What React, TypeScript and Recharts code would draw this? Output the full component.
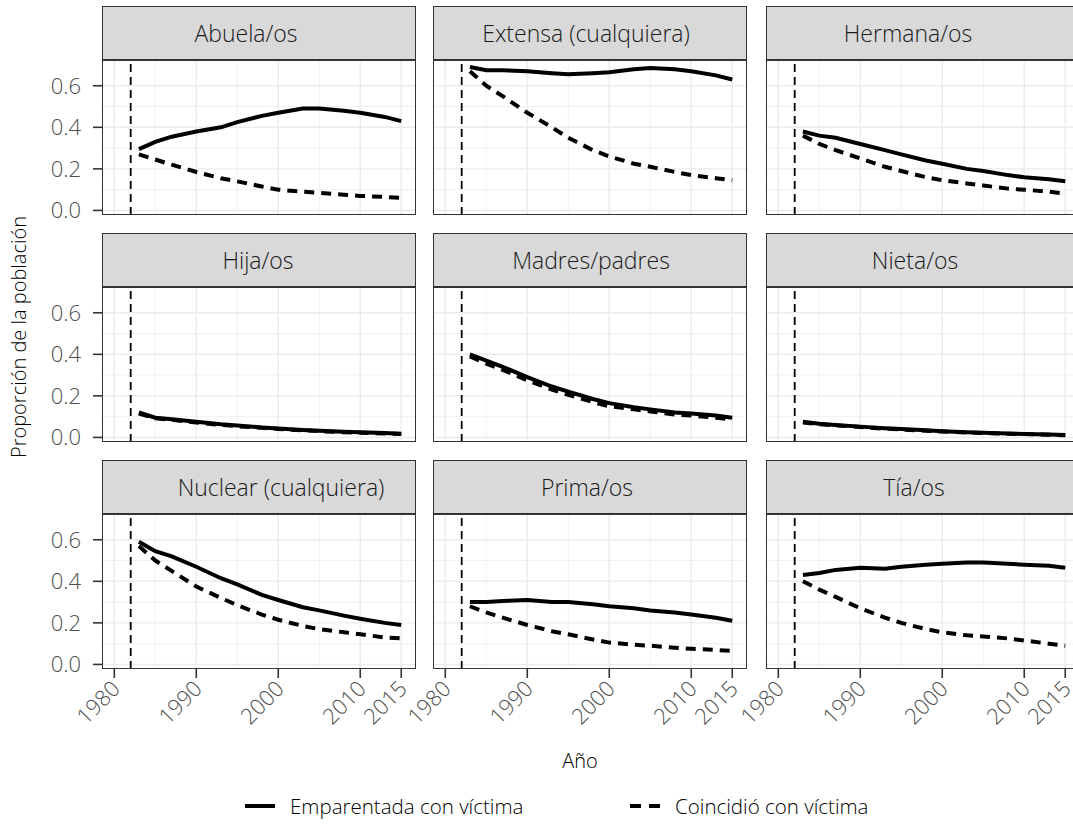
import { LineChart, Line, XAxis, YAxis, CartesianGrid, ReferenceLine } from "recharts";

const years = [1983, 1985, 1987, 1990, 1993, 1995, 1998, 2000, 2003, 2005, 2008, 2010, 2013, 2015];

const panelNames = [
  "Abuela/os", "Extensa (cualquiera)", "Hermana/os",
  "Hija/os", "Madres/padres", "Nieta/os",
  "Nuclear (cualquiera)", "Prima/os", "Tía/os",
];

// emparentada con víctima (solid)
const abuelaRel = [0.295, 0.33, 0.355, 0.38, 0.4, 0.425, 0.455, 0.47, 0.49, 0.49, 0.48, 0.47, 0.45, 0.43];
const extensaRel = [0.69, 0.675, 0.675, 0.67, 0.66, 0.655, 0.66, 0.665, 0.68, 0.685, 0.68, 0.67, 0.65, 0.63];
const hermanaRel = [0.38, 0.36, 0.35, 0.32, 0.29, 0.27, 0.24, 0.225, 0.2, 0.19, 0.17, 0.16, 0.15, 0.14];
const hijaRel = [0.12, 0.095, 0.088, 0.075, 0.063, 0.057, 0.048, 0.043, 0.036, 0.032, 0.027, 0.025, 0.021, 0.018];
const madresRel = [0.4, 0.37, 0.34, 0.29, 0.245, 0.22, 0.185, 0.165, 0.145, 0.135, 0.12, 0.115, 0.105, 0.095];
const nietaRel = [0.075, 0.066, 0.06, 0.052, 0.044, 0.04, 0.034, 0.03, 0.025, 0.022, 0.019, 0.017, 0.014, 0.012];
const nuclearRel = [0.59, 0.545, 0.52, 0.47, 0.415, 0.385, 0.335, 0.31, 0.275, 0.26, 0.235, 0.22, 0.2, 0.19];
const primaRel = [0.3, 0.3, 0.305, 0.31, 0.3, 0.3, 0.29, 0.28, 0.27, 0.26, 0.25, 0.24, 0.225, 0.21];
const tiaRel = [0.43, 0.44, 0.455, 0.465, 0.46, 0.47, 0.48, 0.485, 0.49, 0.49, 0.485, 0.48, 0.475, 0.465];

// coincidió con víctima (dashed)
const abuelaCoin = [0.27, 0.245, 0.22, 0.185, 0.155, 0.14, 0.115, 0.1, 0.09, 0.085, 0.075, 0.07, 0.065, 0.06];
const extensaCoin = [0.67, 0.6, 0.55, 0.47, 0.4, 0.35, 0.29, 0.26, 0.225, 0.21, 0.185, 0.17, 0.155, 0.145];
const hermanaCoin = [0.36, 0.32, 0.29, 0.25, 0.21, 0.19, 0.16, 0.145, 0.13, 0.12, 0.105, 0.1, 0.09, 0.08];
const hijaCoin = [0.115, 0.092, 0.085, 0.072, 0.06, 0.054, 0.046, 0.041, 0.034, 0.03, 0.025, 0.023, 0.019, 0.016];
const madresCoin = [0.39, 0.355, 0.325, 0.275, 0.23, 0.205, 0.17, 0.15, 0.135, 0.125, 0.11, 0.105, 0.095, 0.085];
const nietaCoin = [0.072, 0.064, 0.058, 0.05, 0.042, 0.038, 0.032, 0.028, 0.024, 0.021, 0.018, 0.016, 0.013, 0.011];
const nuclearCoin = [0.57, 0.5, 0.45, 0.375, 0.32, 0.285, 0.24, 0.215, 0.185, 0.17, 0.155, 0.145, 0.13, 0.125];
const primaCoin = [0.28, 0.25, 0.225, 0.19, 0.16, 0.145, 0.12, 0.105, 0.095, 0.09, 0.08, 0.075, 0.07, 0.065];
const tiaCoin = [0.4, 0.36, 0.325, 0.27, 0.225, 0.2, 0.17, 0.155, 0.14, 0.135, 0.125, 0.115, 0.1, 0.09];

const relSeries = [abuelaRel, extensaRel, hermanaRel, hijaRel, madresRel, nietaRel, nuclearRel, primaRel, tiaRel];
const coinSeries = [abuelaCoin, extensaCoin, hermanaCoin, hijaCoin, madresCoin, nietaCoin, nuclearCoin, primaCoin, tiaCoin];

const xTicks = [1980, 1990, 2000, 2010, 2015];
const xMinor = [1985, 1995, 2005];
const yTicks = [0, 0.2, 0.4, 0.6];
const yMinor = [0.1, 0.3, 0.5];
const eventYear = 1982;

const FONT = "'Open Sans', 'Noto Sans', sans-serif";
const colLeft = [102, 433, 766];
const panelTop = [60, 287, 514];
const panelW = 314;
const panelH = 155;
const stripH = 54;
const yAxisW = 70;
const xAxisH = 70;
const DASH = "10 7";
// where each strip label sits (page x of its centre), as in the source image
const stripCenter = [245, 585, 907, 257, 590, 914, 280, 586, 913];

const XTick = (props: any) => {
  const { x, y, payload } = props;
  const ax = x - 4;
  const ay = y + 1;
  return (
    <text
      x={ax}
      y={ay}
      transform={`rotate(-45, ${ax}, ${ay})`}
      textAnchor="end"
      dy="0.72em"
      fill="#4D4D4D"
      fontSize={22}
      fontFamily={FONT}
      fontWeight={300}
    >
      {payload.value}
    </text>
  );
};

function Panel({ idx }: { idx: number }) {
  const col = idx % 3;
  const row = Math.floor(idx / 3);
  const leftCol = col === 0;
  const bottomRow = row === 2;
  const data = years.map((yr, i) => ({ year: yr, rel: relSeries[idx][i], coin: coinSeries[idx][i] }));
  const w = panelW + (leftCol ? yAxisW : 0);
  const h = panelH + (bottomRow ? xAxisH : 0);
  return (
    <>
      <div
        style={{
          position: "absolute", left: colLeft[col], top: panelTop[row] - stripH, width: panelW, height: stripH,
          background: "#D9D9D9", border: "1.5px solid #333", boxSizing: "border-box", overflow: "hidden",
        }}
      >
        <div
          style={{
            position: "absolute", left: stripCenter[idx] - colLeft[col] - 200, width: 400, top: 0, bottom: 0,
            display: "flex", alignItems: "center", justifyContent: "center",
            fontSize: 23, color: "#1A1A1A", fontFamily: FONT, fontWeight: 300, whiteSpace: "nowrap",
          }}
        >
          {panelNames[idx]}
        </div>
      </div>
      <div style={{ position: "absolute", left: colLeft[col] - (leftCol ? yAxisW : 0), top: panelTop[row] }}>
        <LineChart width={w} height={h} data={data} margin={{ top: 0, right: 0, bottom: 0, left: 0 }}>
          <CartesianGrid stroke="#EBEBEB" strokeWidth={0.7} verticalValues={xMinor} horizontalValues={yMinor} />
          <CartesianGrid stroke="#EBEBEB" strokeWidth={1.4} verticalValues={xTicks} horizontalValues={yTicks} />
          <XAxis
            dataKey="year"
            type="number"
            domain={[1978.5, 2016.8]}
            ticks={xTicks}
            allowDataOverflow
            hide={!bottomRow}
            height={xAxisH}
            axisLine={false}
            tickLine={{ stroke: "#333", strokeWidth: 1.6 }}
            tickSize={9}
            tickMargin={0}
            tick={<XTick />}
            interval={0}
          />
          <YAxis
            type="number"
            domain={[-0.022, 0.724]}
            ticks={yTicks}
            allowDataOverflow
            hide={!leftCol}
            width={yAxisW}
            axisLine={false}
            tickLine={{ stroke: "#333", strokeWidth: 1.6 }}
            tickSize={9}
            tickMargin={12}
            interval={0}
            tickFormatter={(v: number) => v.toFixed(1)}
            tick={{ fill: "#4D4D4D", fontSize: 22, fontFamily: FONT, fontWeight: 300 }}
          />
          <ReferenceLine x={eventYear} stroke="#000" strokeWidth={1.8} strokeDasharray="8 5" />
          <Line type="linear" dataKey="rel" stroke="#000" strokeWidth={4} dot={false} isAnimationActive={false} />
          <Line type="linear" dataKey="coin" stroke="#000" strokeWidth={4} strokeDasharray={DASH} dot={false} isAnimationActive={false} />
        </LineChart>
      </div>
      <div
        style={{
          position: "absolute", left: colLeft[col], top: panelTop[row], width: panelW, height: panelH,
          border: "1.5px solid #333", boxSizing: "border-box", pointerEvents: "none",
        }}
      />
    </>
  );
}

export default function App() {
  return (
    <div style={{ position: "absolute", left: 0, top: 0, width: 1073, height: 826, overflow: "hidden", background: "#fff", fontFamily: FONT }}>
      <style>{"svg { overflow: visible; } .recharts-wrapper { overflow: visible; }"}</style>
      {panelNames.map((_, i) => (
        <Panel key={i} idx={i} />
      ))}
      <div
        style={{
          position: "absolute", left: 18, top: 337, transform: "translate(-50%, -50%) rotate(-90deg)",
          whiteSpace: "nowrap", fontSize: 20, color: "#000", fontWeight: 300,
        }}
      >
        Proporción de la población
      </div>
      <div style={{ position: "absolute", left: 580, top: 760, transform: "translate(-50%, -50%)", fontSize: 20, fontWeight: 300 }}>
        Año
      </div>
      <svg width={32} height={10} style={{ position: "absolute", left: 244, top: 801 }}>
        <line x1={1} y1={5} x2={31} y2={5} stroke="#000" strokeWidth={4} />
      </svg>
      <div style={{ position: "absolute", left: 290, top: 806, transform: "translateY(-50%)", fontSize: 20.5, fontWeight: 300, whiteSpace: "nowrap" }}>
        Emparentada con víctima
      </div>
      <svg width={32} height={10} style={{ position: "absolute", left: 629, top: 801 }}>
        <line x1={1} y1={5} x2={31} y2={5} stroke="#000" strokeWidth={4} strokeDasharray="11 8" />
      </svg>
      <div style={{ position: "absolute", left: 675, top: 806, transform: "translateY(-50%)", fontSize: 20.5, fontWeight: 300, whiteSpace: "nowrap" }}>
        Coincidió con víctima
      </div>
    </div>
  );
}
